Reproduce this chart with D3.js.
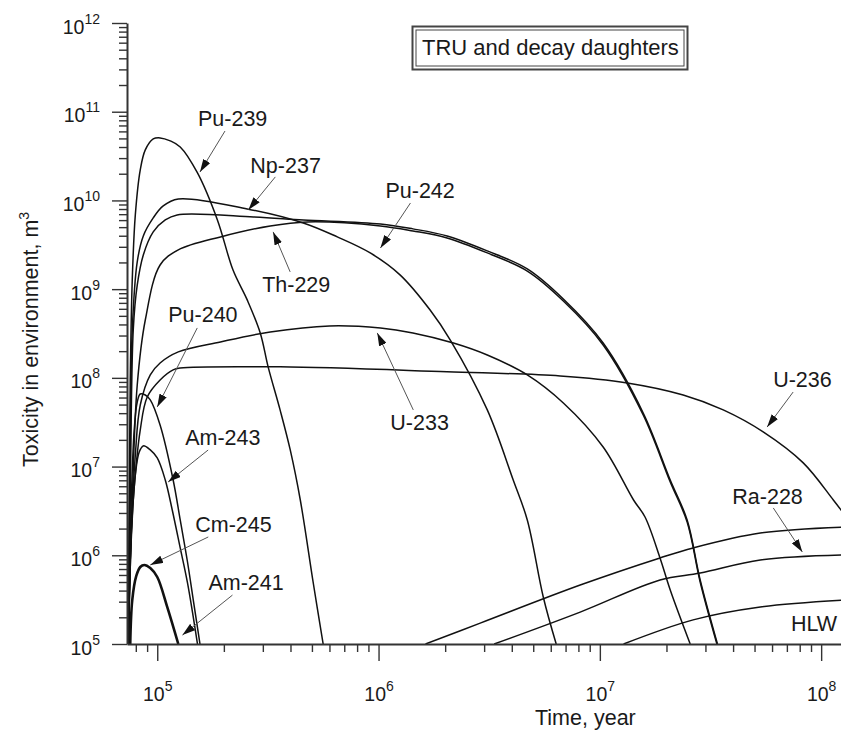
<!DOCTYPE html>
<html lang="en">
<head>
<meta charset="utf-8">
<title>TRU and decay daughters</title>
<script src="https://d3js.org/d3.v7.min.js"></script>
<style>
  body { margin: 0; background: #fff; }
  svg { display: block; font-family: "Liberation Sans", Arial, sans-serif; }
</style>
</head>
<body>
<div id="chart"></div>
<script>
// [time in years, toxicity in m3]
const pu239 = [[7.40e4,1e5],[7.47e4,4.2e6],[7.55e4,9.47e7],[7.71e4,1.27e9],[7.96e4,6.87e9],[8.38e4,2.21e10],[8.83e4,3.71e10],[9.59e4,4.93e10],[1.03e5,5.07e10],[1.145e5,4.69e10],[1.27e5,4.01e10],[1.52e5,2.04e10],[1.87e5,6.03e9],[2.20e5,1.64e9],[2.55e5,7.56e8],[2.92e5,3.21e8],[3.17e5,1.33e8],[3.59e5,4.35e7],[3.99e5,1.54e7],[4.43e5,4.2e6],[5.07e5,4.87e5],[5.62e5,1e5]];
const np237 = [[7.40e4,1e5],[7.55e4,1.54e7],[7.71e4,3.47e8],[8.12e4,2.03e9],[8.65e4,3.98e9],[9.59e4,6.35e9],[1.064e5,8.67e9],[1.245e5,1.04e10],[2.55e5,8.02e9],[4.57e5,5.57e9],[6.51e5,3.88e9],[9.17e5,2.56e9],[1.25e6,1.45e9],[1.71e6,5.82e8],[2.11e6,2.67e8],[3.10e6,4.35e7],[4.06e6,7.06e6],[4.70e6,2.5e6],[5.55e6,3.39e5],[6.35e6,1e5]];
const pu242 = [[7.40e4,1e5],[7.55e4,4.2e6],[7.79e4,3.47e8],[8.12e4,1.11e9],[8.65e4,2.43e9],[9.59e4,4.42e9],[1.087e5,6.03e9],[1.23e5,6.87e9],[2.72e5,6.52e9],[4.57e5,6.03e9],[1.02e6,5.43e9],[1.43e6,4.78e9],[2.04e6,3.98e9],[3.10e6,2.70e9],[4.70e6,1.69e9],[6.84e6,7.74e8],[1.035e7,2.47e8],[1.57e7,4.02e7],[2.08e7,7.06e6],[2.48e7,2.5e6],[2.84e7,5.27e5],[3.40e7,1e5]];
const th229 = [[7.40e4,1e5],[7.71e4,4.2e6],[8.12e4,8.32e7],[8.83e4,4.49e8],[1.03e5,1.87e9],[1.245e5,2.77e9],[1.93e5,3.88e9],[3.24e5,5.16e9],[4.76e5,5.72e9],[1.02e6,5.16e9],[1.43e6,4.53e9],[2.04e6,3.78e9],[3.10e6,2.56e9],[4.70e6,1.60e9],[6.84e6,7.36e8],[1.035e7,2.35e8],[1.57e7,3.82e7],[2.08e7,6.70e6],[2.48e7,2.37e6],[2.84e7,5.0e5],[3.40e7,9.5e4]];
const u233 = [[7.40e4,1e5],[7.63e4,1.93e6],[7.96e4,1.35e7],[8.38e4,4.94e7],[9.30e4,1.08e8],[1.03e5,1.47e8],[1.245e5,1.96e8],[1.93e5,2.54e8],[3.24e5,3.29e8],[6.0e5,3.85e8],[1.02e6,3.65e8],[1.43e6,3.21e8],[2.18e6,2.47e8],[3.10e6,1.81e8],[4.70e6,1.08e8],[6.84e6,5.21e7],[1.035e7,1.66e7],[1.42e7,4.2e6],[1.60e7,2.7e6],[1.87e7,9.33e5],[2.08e7,4.06e5],[2.56e7,1e5]];
const u236 = [[7.40e4,1e5],[7.55e4,8.85e5],[7.79e4,4.2e6],[8.38e4,2.59e7],[9.01e4,6.09e7],[1.03e5,9.47e7],[1.18e5,1.23e8],[1.27e5,1.29e8],[3.59e5,1.33e8],[2.04e6,1.17e8],[6.62e6,1.05e8],[1.33e7,8.76e7],[2.38e7,6.41e7],[3.61e7,4.35e7],[5.47e7,2.46e7],[8.30e7,1.10e7],[1.135e8,4.2e6],[1.285e8,2.8e6]];
const pu240 = [[7.40e4,1e5],[7.63e4,4.2e6],[7.87e4,2.59e7],[8.12e4,5.35e7],[8.38e4,6.58e7],[8.83e4,6.41e7],[9.30e4,5.64e7],[1.03e5,2.94e7],[1.18e5,7.06e6],[1.27e5,2.5e6],[1.37e5,8.4e5],[1.455e5,3.13e5],[1.56e5,1e5]];
const am243 = [[7.40e4,1e5],[7.63e4,1.49e6],[7.96e4,8.04e6],[8.29e4,1.46e7],[8.65e4,1.71e7],[9.30e4,1.54e7],[1.0e5,1.25e7],[1.087e5,7.06e6],[1.169e5,3.24e6],[1.27e5,1.21e6],[1.37e5,4.88e5],[1.52e5,1e5]];
const cm245 = [[7.55e4,1e5],[7.71e4,3.13e5],[8.04e4,5.85e5],[8.38e4,7.38e5],[8.74e4,7.78e5],[9.30e4,7.19e5],[1.0e5,5.69e5],[1.11e5,2.61e5],[1.245e5,1e5]];
const raUpper = [[1.63e6,1e5],[2.88e6,1.72e5],[8.15e6,4.62e5],[1.87e7,9.33e5],[2.64e7,1.21e6],[5.31e7,1.78e6],[1.285e8,2.08e6]];
const ra228 = [[3.33e6,1e5],[8.15e6,2.29e5],[1.87e7,5.27e5],[2.84e7,6.31e5],[5.31e7,8.85e5],[1.285e8,1.01e6]];
const raLower = [[1.28e7,1e5],[2.64e7,1.87e5],[5.31e7,2.61e5],[1.285e8,3.13e5]];

const curves = [
  { name: "Pu-239", pts: pu239, w: 1.5 },
  { name: "Np-237", pts: np237, w: 1.5 },
  { name: "Pu-242", pts: pu242, w: 1.5 },
  { name: "Th-229", pts: th229, w: 1.5 },
  { name: "U-233", pts: u233, w: 1.5 },
  { name: "U-236", pts: u236, w: 1.5 },
  { name: "Pu-240", pts: pu240, w: 1.5 },
  { name: "Am-243", pts: am243, w: 1.5 },
  { name: "Cm-245", pts: cm245, w: 2.6 },
  { name: "upper", pts: raUpper, w: 1.5 },
  { name: "Ra-228", pts: ra228, w: 1.5 },
  { name: "lower", pts: raLower, w: 1.5 }
];

// labels: arrow tip in data units, tail and text offsets in px from the tip
const notes = [
  { text: "Pu-239", tip: [1.56e5, 2.09e10], tail: [25, -41], at: [-2, -46] },
  { text: "Np-237", tip: [2.58e5, 7.82e9], tail: [27, -33], at: [2, -37] },
  { text: "Pu-242", tip: [1.02e6, 2.91e9], tail: [30, -45], at: [5, -50] },
  { text: "Th-229", tip: [3.34e5, 4.42e9], tail: [17, 40], at: [-11, 60] },
  { text: "Pu-240", tip: [1.0e5, 4.70e7], tail: [40, -79], at: [11, -85] },
  { text: "Am-243", tip: [1.12e5, 6.70e6], tail: [40, -32], at: [17, -37] },
  { text: "Cm-245", tip: [9.30e4, 7.78e5], tail: [58, -28], at: [45, -33] },
  { text: "Am-241", tip: [1.30e5, 1.26e5], tail: [50, -40], at: [26, -45] },
  { text: "U-233", tip: [9.87e5, 3.21e8], tail: [36, 77], at: [13, 97] },
  { text: "U-236", tip: [5.70e7, 2.79e7], tail: [26, -35], at: [6, -40] },
  { text: "Ra-228", tip: [8.22e7, 1.09e6], tail: [-29, -44], at: [-70, -48] },
  { text: "HLW", tip: [7.3e7, 1.40e5], tail: null, at: [0, 0] }
];

const xDomain = [7.3e4, 1.25e8];
const yDomain = [1e5, 1e12];

const width = 841, height = 731;
const plotLeft = 127, plotRight = 842.6, plotTop = 23, plotBottom = 644;

const svg = d3.select("#chart").append("svg")
  .attr("width", width)
  .attr("height", height);

const x = d3.scaleLog().domain(xDomain).range([plotLeft, plotRight]);
const y = d3.scaleLog().domain(yDomain).range([plotBottom, plotTop]);

const isMajor = d => Math.abs(Math.log10(d) - Math.round(Math.log10(d))) < 1e-9;

function logTicks(lo, hi) {
  const out = [];
  for (let k = Math.floor(Math.log10(lo)); k <= Math.ceil(Math.log10(hi)); k++) {
    for (let m = 1; m <= 9; m++) {
      const v = m * Math.pow(10, k);
      if (v >= lo * 0.9999 && v <= hi * 1.0001) out.push(v);
    }
  }
  return out;
}

const defs = svg.append("defs");
defs.append("clipPath").attr("id", "plot")
  .append("rect")
  .attr("x", plotLeft).attr("y", plotTop)
  .attr("width", plotRight - plotLeft).attr("height", plotBottom - plotTop);

const marker = defs.append("marker")
  .attr("id", "head")
  .attr("viewBox", "0 0 13 8")
  .attr("refX", 13).attr("refY", 4)
  .attr("markerWidth", 13).attr("markerHeight", 8)
  .attr("markerUnits", "userSpaceOnUse")
  .attr("orient", "auto");
marker.append("path").attr("d", "M0,0L13,4L0,8z").attr("fill", "#111");

// curves
const line = d3.line()
  .x(d => x(d[0]))
  .y(d => y(d[1]))
  .curve(d3.curveCatmullRom.alpha(0.5));

svg.append("g").attr("clip-path", "url(#plot)")
  .selectAll("path")
  .data(curves)
  .join("path")
  .attr("d", d => line(d.pts))
  .attr("fill", "none")
  .attr("stroke", "#111")
  .attr("stroke-width", d => d.w)
  .attr("stroke-linejoin", "round");

// axes
const xAxis = svg.append("g")
  .attr("transform", `translate(0,${plotBottom})`)
  .call(d3.axisBottom(x).tickValues(logTicks(xDomain[0], xDomain[1])).tickSize(8).tickSizeOuter(0).tickFormat(() => ""));

const yAxis = svg.append("g")
  .attr("transform", `translate(${plotLeft},0)`)
  .call(d3.axisLeft(y).tickValues(logTicks(yDomain[0], yDomain[1])).tickSize(8).tickSizeOuter(0).tickFormat(() => ""));

[xAxis, yAxis].forEach(g => {
  g.select(".domain").attr("stroke", "#333").attr("stroke-width", 2);
  g.selectAll(".tick line").attr("stroke", "#333").attr("stroke-width", 1.4);
  g.selectAll(".tick text").remove();
});
xAxis.selectAll(".tick line").attr("y2", d => isMajor(d) ? 17 : 8);
yAxis.selectAll(".tick line").attr("x2", d => isMajor(d) ? -15 : -8);

function powLabel(sel) {
  sel.append("tspan").text("10");
  sel.append("tspan")
    .attr("dy", -10)
    .attr("font-size", 14)
    .text(d => Math.round(Math.log10(d)));
}

xAxis.selectAll(".tick").filter(isMajor)
  .append("text")
  .attr("y", 57)
  .attr("text-anchor", "middle")
  .attr("font-size", 19.5)
  .attr("fill", "#1a1a1a")
  .call(powLabel);

yAxis.selectAll(".tick").filter(isMajor)
  .append("text")
  .attr("x", -27)
  .attr("y", 10)
  .attr("text-anchor", "end")
  .attr("font-size", 19.5)
  .attr("fill", "#1a1a1a")
  .call(powLabel);

// axis titles
const yTitle = svg.append("text")
  .attr("transform", `translate(38,${plotBottom - 177}) rotate(-90)`)
  .attr("font-size", 21.5)
  .attr("fill", "#1a1a1a");
yTitle.append("tspan").text("Toxicity in environment, m");
yTitle.append("tspan").attr("dy", -9).attr("font-size", 14).text("3");

svg.append("text")
  .attr("x", 535)
  .attr("y", 725)
  .attr("font-size", 21.5)
  .attr("fill", "#1a1a1a")
  .text("Time, year");

// labels with arrows
const ann = svg.append("g");
notes.forEach(n => {
  const tx = x(n.tip[0]), ty = y(n.tip[1]);
  if (n.tail) {
    ann.append("line")
      .attr("x1", tx + n.tail[0]).attr("y1", ty + n.tail[1])
      .attr("x2", tx).attr("y2", ty)
      .attr("stroke", "#555")
      .attr("stroke-width", 1)
      .attr("marker-end", "url(#head)");
  }
  ann.append("text")
    .attr("x", tx + n.at[0])
    .attr("y", ty + n.at[1])
    .attr("font-size", 21.5)
    .attr("fill", "#1a1a1a")
    .text(n.text);
});

// title box
const box = svg.append("g");
box.append("rect")
  .attr("x", 412.5).attr("y", 26.5).attr("width", 275).attr("height", 43)
  .attr("fill", "#fff").attr("stroke", "#444").attr("stroke-width", 2);
box.append("rect")
  .attr("x", 416).attr("y", 30).attr("width", 268).attr("height", 36)
  .attr("fill", "none").attr("stroke", "#444").attr("stroke-width", 1);
box.append("text")
  .attr("x", 422).attr("y", 55)
  .attr("font-size", 22)
  .attr("fill", "#1a1a1a")
  .text("TRU and decay daughters");
</script>
</body>
</html>
